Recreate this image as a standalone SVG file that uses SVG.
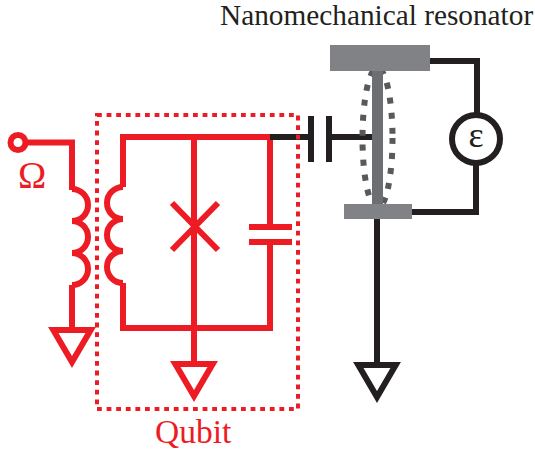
<svg xmlns="http://www.w3.org/2000/svg" width="535" height="458" viewBox="0 0 535 458">
<style>
.r{fill:none;stroke:#ed1c24;stroke-width:6;stroke-linejoin:miter}
.k{fill:none;stroke:#231f20;stroke-width:6;stroke-linejoin:miter}
.t{font-family:"Liberation Serif",serif}
</style>
<defs>
<path id="gnd" d="M-18.7 0H18.7L0 32Z" stroke-width="6"/>
</defs>
<rect width="535" height="458" fill="#fff"/>
<g id="connectors">
<path class="r" d="M27 142.500H72V190"/>
<path class="r" d="M72 285V330"/>
<path class="r" d="M123 187V137H270V227"/>
<path class="r" d="M123 283V328H270V242"/>
<path class="r" d="M194 137V361"/>
<path class="k" d="M270 137H311"/>
<path class="k" d="M329 137H373"/>
<path class="k" d="M430 61H477V115"/>
<path class="k" d="M476 163V212H412"/>
<path class="k" d="M377 219V365"/>
</g>
<g id="drive-port"><circle class="r" cx="18" cy="142.500" r="7.500"/><text class="t" x="32" y="188" font-size="38" fill="#ed1c24" text-anchor="middle">Ω</text></g>
<g id="primary-coil"><path class="r" d="M72 189A16 16 0 0 1 72 221A16 16 0 0 1 72 253A16 16 0 0 1 72 285"/></g>
<g id="secondary-coil"><path class="r" d="M123 187A16 16 0 0 0 123 219A16 16 0 0 0 123 251A16 16 0 0 0 123 283"/></g>
<g id="ground-drive"><use href="#gnd" x="72" y="330" class="r"/></g>
<g id="ground-qubit"><use href="#gnd" x="194" y="364" class="r"/></g>
<g id="ground-resonator"><use href="#gnd" x="377" y="365" class="k"/></g>
<g id="junction"><path class="r" d="M172 203L218 250M218 203L172 250"/></g>
<g id="qubit-capacitor"><path class="r" d="M249 227H292M249 242H292"/></g>
<g id="qubit-box"><rect x="97" y="115" width="201" height="294" fill="none" stroke="#ed1c24" stroke-width="4" stroke-dasharray="4.800 4.800"/><text class="t" x="155" y="443" font-size="33.500" fill="#ed1c24">Qubit</text></g>
<g id="coupling-capacitor"><path class="k" d="M311 116V162M329 116V162"/></g>
<g id="resonator">
<ellipse cx="377.500" cy="138" rx="15" ry="70" fill="none" stroke="#58595b" stroke-width="6" stroke-dasharray="6 9"/>
<rect x="372" y="71" width="11" height="133" fill="#6d6e71"/>
<rect x="330" y="45" width="100" height="26" fill="#808285"/>
<rect x="344" y="204" width="68" height="15" fill="#808285"/>
<text class="t" x="220" y="25" font-size="29.300" fill="#231f20">Nanomechanical resonator</text>
</g>
<g id="emf"><circle class="k" cx="476" cy="139" r="24"/><text class="t" x="476" y="147" font-size="36" fill="#231f20" text-anchor="middle">ε</text></g>
</svg>
